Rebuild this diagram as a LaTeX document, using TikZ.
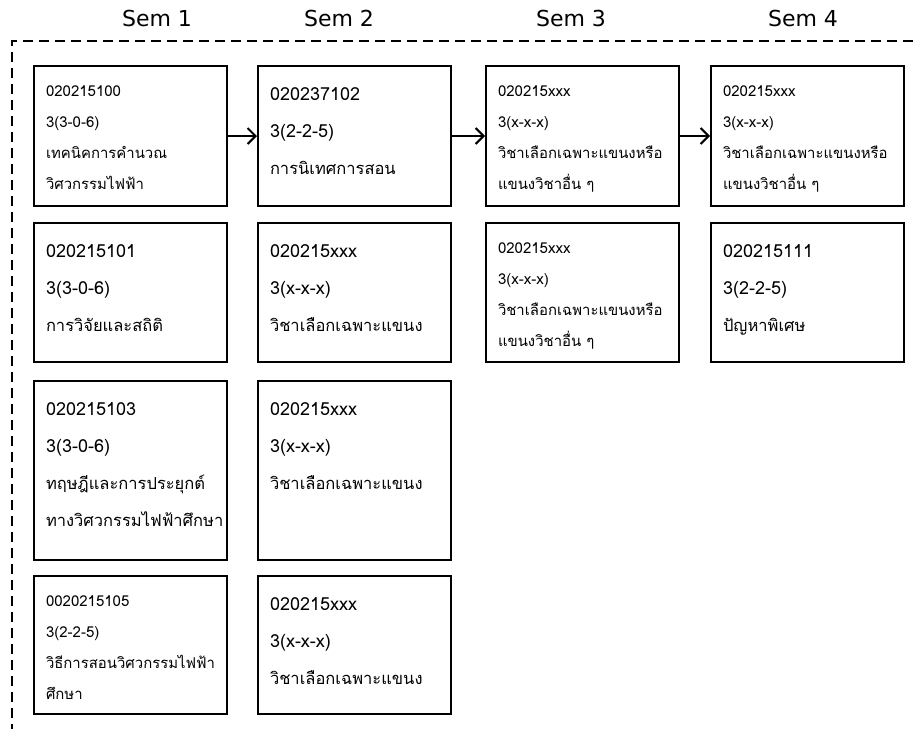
\documentclass[tikz,border=0pt]{standalone}
\usepackage{fontspec}
\setmainfont{DejaVu Sans}
\newfontfamily\thaifont[Script=Thai]{Loma}
\newcommand\thsize{16}
\newcommand\thai[1]{{\fontsize{\thsize}{\baselineskip}\selectfont #1}}
\usetikzlibrary{arrows.meta, positioning}

\begin{document}
\begin{tikzpicture}[
  x=1pt, y=1pt,
  node distance=15pt and 30pt,
  sem/.style={font=\fontsize{22}{26}\selectfont, inner sep=0pt},
  course/.style={rectangle, draw=black, line width=2pt, fill=white,
                 text width=169pt, align=left, inner xsep=12pt, inner ysep=0pt},
  big/.style={course, text height=34pt,
              font=\thaifont\fontsize{18}{37}\selectfont\renewcommand\thsize{16.5}},
  small/.style={course, text height=30pt,
                font=\thaifont\fontsize{15}{31}\selectfont\renewcommand\thsize{14.9}},
  next/.style={-{Straight Barb[length=8pt,width=16pt,line width=2pt]}, line width=2pt},
  frame/.style={dash pattern=on 10pt off 6pt, line width=2pt},
]
\useasboundingbox (0,0) rectangle (913,-729);

% Semester headings
\node[sem] (sem1) at (157,-18) {Sem 1};
\node[sem] (sem2) at (339,-18) {Sem 2};
\node[sem] (sem3) at (571,-18) {Sem 3};
\node[sem] (sem4) at (803,-18) {Sem 4};

% Frame
\draw[frame] (913,-41) -| (12,-729);

% Nodes
\node[small, text depth=110pt, anchor=north west] (c1a) at (33,-65)
  {020215100\\3(3-0-6)\\\thai{เทคนิคการคำนวณ}\\\thai{วิศวกรรมไฟฟ้า}};
\node[big, text depth=106pt, right=29pt of c1a] (c2a)
  {020237102\\3(2-2-5)\\\thai{การนิเทศการสอน}};
\node[small, text depth=110pt, right=33pt of c2a] (c3a)
  {020215xxx\\3(x-x-x)\\\thai{วิชาเลือกเฉพาะแขนงหรือ}\\\thai{แขนงวิชาอื่น ๆ}};
\node[small, text depth=110pt, right=30pt of c3a] (c4a)
  {020215xxx\\3(x-x-x)\\\thai{วิชาเลือกเฉพาะแขนงหรือ}\\\thai{แขนงวิชาอื่น ๆ}};

\node[big, text depth=105pt, below=of c1a] (c1b)
  {020215101\\3(3-0-6)\\\thai{การวิจัยและสถิติ}};
\node[big, text depth=105pt, below=of c2a] (c2b)
  {020215xxx\\3(x-x-x)\\\thai{วิชาเลือกเฉพาะแขนง}};
\node[small, text depth=109pt, below=of c3a] (c3b)
  {020215xxx\\3(x-x-x)\\\thai{วิชาเลือกเฉพาะแขนงหรือ}\\\thai{แขนงวิชาอื่น ๆ}};
\node[big, text depth=105pt, below=of c4a] (c4b)
  {020215111\\3(2-2-5)\\\thai{ปัญหาพิเศษ}};

\node[big, text depth=145pt, below=17pt of c1b] (c1c)
  {020215103\\3(3-0-6)\\\thai{ทฤษฎีและการประยุกต์}\\\thai{ทางวิศวกรรมไฟฟ้าศึกษา}};
\node[big, text depth=145pt, below=17pt of c2b] (c2c)
  {020215xxx\\3(x-x-x)\\\thai{วิชาเลือกเฉพาะแขนง}};

\node[small, text depth=108pt, below=14pt of c1c] (c1d)
  {0020215105\\3(2-2-5)\\\thai{วิธีการสอนวิศวกรรมไฟฟ้า}\\\thai{ศึกษา}};
\node[big, text depth=104pt, below=14pt of c2c] (c2d)
  {020215xxx\\3(x-x-x)\\\thai{วิชาเลือกเฉพาะแขนง}};

% Edges
\draw[next] (c1a) -- (c2a);
\draw[next] (c2a) -- (c3a);
\draw[next] (c3a) -- (c4a);

\end{tikzpicture}
\end{document}
